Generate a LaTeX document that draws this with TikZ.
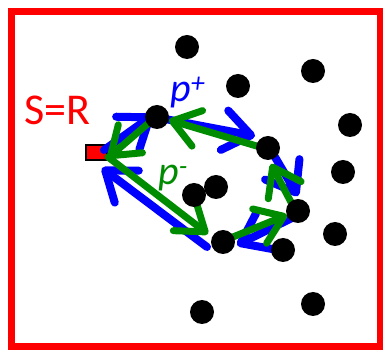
\documentclass[tikz,border=0pt]{standalone}
\usepackage{fontspec}
\setmainfont{Carlito}
\usetikzlibrary{arrows.meta}
\definecolor{pgreen}{RGB}{0,140,0}
\definecolor{pblue}{RGB}{0,0,255}
\definecolor{pred}{RGB}{255,0,0}
\tikzset{
  dot/.style={circle,fill=black,minimum size=24pt,inner sep=0pt},
  source/.style={rectangle,fill=pred,draw=black,line width=1.5pt,minimum width=21pt,minimum height=15pt,inner sep=0pt},
  barrow/.style={pblue,line width=8pt,line cap=round,-{Straight Barb[length=27pt,width=40pt,round]}},
  garrow/.style={pgreen,line width=7pt,line cap=round,-{Straight Barb[length=26pt,width=37pt,round]}},
  frame/.style={pred,line width=7pt},
  lbl/.style={inner sep=0pt,anchor=base west}
}
\begin{document}
\begin{tikzpicture}[x=1pt,y=-1pt]
\useasboundingbox (0,0) rectangle (383,352);
\fill[white] (0,0) rectangle (383,352);
\draw[frame] (11.5,11.5) rectangle (380,347);
\node[lbl,pred,font=\fontsize{44}{44}\selectfont] (sr) at (24,125) {S=R};
\node[source] (S) at (96.5,152.5) {};
% dot positions
\coordinate (A) at (157,117);
\coordinate (B) at (268,148);
\coordinate (C) at (298,211);
\coordinate (D) at (223,242);
% blue cycle p+
\draw[barrow] ([shift={(7.5,-2.5)}]S.center) -- ([shift={(-4,-2)}]A);
\draw[barrow] ([shift={(8,2)}]A) -- ([shift={(-13,-12)}]B);
\draw[barrow] ([shift={(4,4)}]B) -- ([shift={(0,-15)}]C);
\draw[barrow] ([shift={(-6,7)}]C) -- ([shift={(14,3)}]D);
\draw[barrow] ([shift={(-16,5)}]D) -- ([shift={(5.5,15.5)}]S.center);
% green cycle p-
\draw[garrow] ([shift={(11.5,4.5)}]S.center) -- ([shift={(-15,-8)}]D);
\draw[garrow] ([shift={(5,-3)}]D) -- ([shift={(-11,4)}]C);
\draw[garrow] ([shift={(-5,-5)}]C) -- ([shift={(3,16)}]B);
\draw[garrow] ([shift={(-8,-1)}]B) -- ([shift={(12,3)}]A);
\draw[garrow] ([shift={(-6,4)}]A) -- ([shift={(11.5,5.5)}]S.center);
% dots
\node[dot] (dA) at (A) {};
\node[dot] (dB) at (B) {};
\node[dot] (dC) at (C) {};
\node[dot] (dD) at (D) {};
\node[dot] (d1) at (187,47) {};
\node[dot] (d2) at (313,71) {};
\node[dot] (d3) at (238,86) {};
\node[dot] (d4) at (350,125) {};
\node[dot] (d7) at (343,172) {};
\node[dot] (d8) at (216,187) {};
\node[dot] (d9) at (194,195) {};
\node[dot] (d11) at (335,234) {};
\node[dot] (d13) at (283,250) {};
\node[dot] (d14) at (313,304) {};
\node[dot] (d15) at (202,312) {};
% labels
\node[lbl,pblue,font=\fontsize{40}{40}\selectfont\itshape] (pp) at (170,102) {p\textsuperscript{+}};
\node[lbl,pgreen,font=\fontsize{40}{40}\selectfont\itshape] (pm) at (158,185) {p\textsuperscript{-}};
\end{tikzpicture}
\end{document}
